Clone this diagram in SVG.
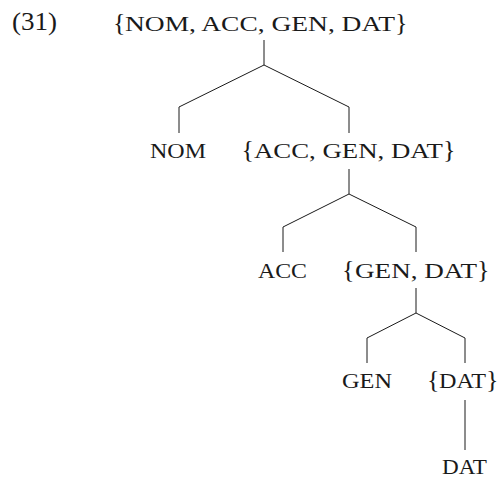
<svg xmlns="http://www.w3.org/2000/svg" width="504" height="480" viewBox="0 0 504 480">
<style>
text { font-family: "Liberation Serif", "Times New Roman", serif; fill: #1a1a1a; }
.sc { font-size: 20px; }
.br { font-size: 26px; }
.ex { font-size: 25px; }
.edge { stroke: #1a1a1a; stroke-width: 1; fill: none; }
</style>
<rect width="504" height="480" fill="#ffffff"/>
<g id="label31"><text class="ex" x="12" y="30" textLength="45" lengthAdjust="spacingAndGlyphs">(31)</text></g>
<g id="n-root">
  <text><tspan class="br" x="113" y="31">{</tspan><tspan class="sc" x="125" y="31" textLength="270" lengthAdjust="spacingAndGlyphs">NOM, ACC, GEN, DAT</tspan><tspan class="br" x="395" y="31">}</tspan></text>
</g>
<g id="n-nom"><text class="sc" x="150" y="157.5" textLength="56" lengthAdjust="spacingAndGlyphs">NOM</text></g>
<g id="n-accgendat">
  <text><tspan class="br" x="241.5" y="157.5">{</tspan><tspan class="sc" x="254" y="157.5" textLength="189" lengthAdjust="spacingAndGlyphs">ACC, GEN, DAT</tspan><tspan class="br" x="443" y="157.5">}</tspan></text>
</g>
<g id="n-acc"><text class="sc" x="258" y="278" textLength="49" lengthAdjust="spacingAndGlyphs">ACC</text></g>
<g id="n-gendat">
  <text><tspan class="br" x="342" y="278">{</tspan><tspan class="sc" x="355" y="278" textLength="122" lengthAdjust="spacingAndGlyphs">GEN, DAT</tspan><tspan class="br" x="477" y="278">}</tspan></text>
</g>
<g id="n-gen"><text class="sc" x="342" y="388" textLength="50" lengthAdjust="spacingAndGlyphs">GEN</text></g>
<g id="n-datset">
  <text><tspan class="br" x="427" y="388">{</tspan><tspan class="sc" x="439" y="388" textLength="47" lengthAdjust="spacingAndGlyphs">DAT</tspan><tspan class="br" x="486" y="388">}</tspan></text>
</g>
<g id="n-dat"><text class="sc" x="442" y="474" textLength="45" lengthAdjust="spacingAndGlyphs">DAT</text></g>
<g id="connectors" class="edge">
  <path class="edge" d="M264 40 V65 M264 65 L179 107 V133 M264 65 L349 107 V133"/>
  <path class="edge" d="M349 169 V194 M349 194 L283 227 V252 M349 194 L416 227 V252"/>
  <path class="edge" d="M416 288 V313 M416 313 L367 338 V363 M416 313 L465 338 V363"/>
  <path class="edge" d="M465 400 V450"/>
</g>
</svg>
